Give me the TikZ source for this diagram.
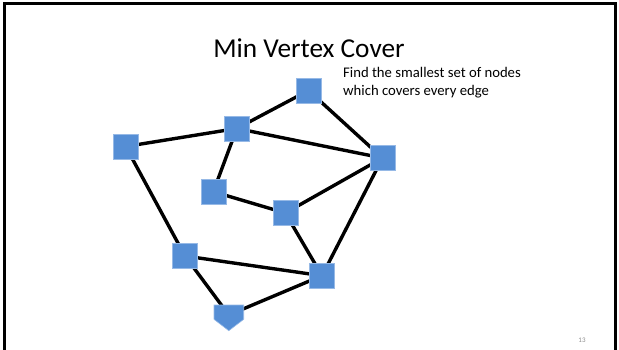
\documentclass[tikz,border=0pt]{standalone}
\usepackage{fontspec}
\setmainfont{Carlito}
\usetikzlibrary{backgrounds}
\definecolor{nodeblue}{RGB}{85,142,213}
\definecolor{nodeedge}{RGB}{150,185,230}
\definecolor{pagegray}{RGB}{140,140,140}
\tikzset{
  vert/.style={rectangle, fill=nodeblue, draw=nodeedge, line width=0.6pt, minimum size=25pt, inner sep=0pt},
  edge/.style={line width=3.4pt, black},
}
\begin{document}
\begin{tikzpicture}[x=1pt,y=-1pt]
\useasboundingbox (0,0) rectangle (619,350);
\clip (0,0) rectangle (619,350);
\draw[line width=2.8pt] (4.5,365) -- (4.5,3.5) -- (615.5,3.5) -- (615.5,365);
\node[font=\fontsize{27.3}{32}\selectfont] (title) at (309,48) {Min Vertex Cover};
\node[font=\fontsize{14.7}{18}\selectfont, anchor=north west, align=left, inner sep=0pt] (desc) at (343,67) {Find the smallest set of nodes\\which covers every edge};
\node[font=\fontsize{7}{8}\selectfont, text=pagegray] (page) at (582,340) {13};
\node[vert] (A) at (125.7,146.5) {};
\node[vert] (B) at (236.8,128.5) {};
\node[vert] (C) at (308.5,90.5) {};
\node[vert] (D) at (382.5,158) {};
\node[vert] (E) at (213.3,191.7) {};
\node[vert] (F) at (285.3,213) {};
\node[vert] (G) at (185,256) {};
\node[vert] (H) at (322,275.7) {};
\coordinate (I) at (228.8,315);
\filldraw[fill=nodeblue, draw=nodeedge, line width=0.6pt] (214,305) -- (243.7,305) -- (243.7,319.3) -- (228.8,330.7) -- (214,319.3) -- cycle;
\begin{pgfonlayer}{background}
\draw[edge] (A.center) -- (B.center);
\draw[edge] (B.center) -- (C.center);
\draw[edge] (C.center) -- (D.center);
\draw[edge] (B.center) -- (D.center);
\draw[edge] (B.center) -- (E.center);
\draw[edge] (E.center) -- (F.center);
\draw[edge] (F.center) -- (D.center);
\draw[edge] (F.center) -- (H.center);
\draw[edge] (D.center) -- (H.center);
\draw[edge] (A.center) -- (G.center);
\draw[edge] (G.center) -- (H.center);
\draw[edge] (G.center) -- (I);
\draw[edge] (I) -- (H.center);
\end{pgfonlayer}
\end{tikzpicture}
\end{document}
